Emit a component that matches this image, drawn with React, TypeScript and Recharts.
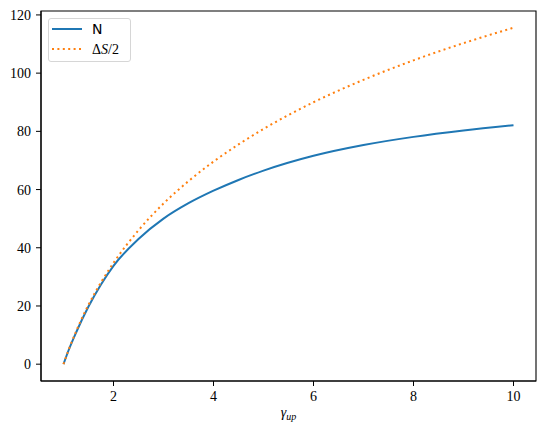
import React from 'react';
import { LineChart, Line, XAxis, YAxis, ReferenceArea } from 'recharts';

const gammaValues = [1, 1.1, 1.25, 1.5, 1.75, 2, 2.5, 3, 3.5, 4, 4.5, 5, 6, 7, 8, 9, 10];
const nValues = [0, 4.7, 10.8, 19.8, 27.4, 33.8, 43, 50, 55.3, 59.6, 63.3, 66.5, 71.6, 75.3, 78.1, 80.3, 82.1];
const halfDeltaSValues = [0, 4.8, 11.2, 20.4, 28.1, 34.8, 46, 55.2, 62.9, 69.6, 75.5, 80.8, 90, 97.7, 104.4, 110.3, 115.6];
const xTicks = [2, 4, 6, 8, 10];
const yTicks = [0, 20, 40, 60, 80, 100, 120];
const xDomain: [number, number] = [0.55, 10.45];
const yDomain: [number, number] = [-5.78, 121.35];

const data = gammaValues.map((g, i) => ({ g, n: nValues[i], ds: halfDeltaSValues[i] }));

const BLUE = '#1f77b4';
const ORANGE = '#ff7f0e';
const tickFont = { fontFamily: '"Liberation Serif", serif', fontSize: 14, fill: '#000' };

const XLabel = (props: any) => {
  const vb = props.viewBox || {};
  const cx = vb.x + vb.width / 2;
  return (
    <text x={cx} y={417} textAnchor="middle" fontFamily='"Liberation Serif", serif' fontStyle="italic" fontSize={14} fill="#000">
      γ<tspan fontSize={10} dy={3}>up</tspan>
    </text>
  );
};

export default function App() {
  return (
    <div style={{ position: 'relative', width: 546, height: 431, marginLeft: -8, marginTop: -8, background: '#fff' }}>
      <LineChart width={546} height={431} data={data} margin={{ top: 11, right: 10, left: 0, bottom: 0 }}>
        <XAxis
          dataKey="g"
          type="number"
          domain={xDomain}
          ticks={xTicks}
          allowDataOverflow
          height={50}
          tickSize={5}
          tickMargin={5}
          stroke="#000"
          tick={tickFont}
          tickLine={{ stroke: '#000' }}
          axisLine={{ stroke: '#000', strokeWidth: 1.1 }}
          label={<XLabel />}
        />
        <YAxis
          type="number"
          domain={yDomain}
          ticks={yTicks}
          allowDataOverflow
          width={41}
          tickSize={5}
          tickMargin={5}
          stroke="#000"
          tick={tickFont}
          tickLine={{ stroke: '#000' }}
          axisLine={{ stroke: '#000', strokeWidth: 1.1 }}
        />
        <ReferenceArea x1={xDomain[0]} x2={xDomain[1]} y1={yDomain[0]} y2={yDomain[1]} fill="none" stroke="#000" strokeWidth={1.1} ifOverflow="visible" />
        <Line type="monotone" dataKey="n" stroke={BLUE} strokeWidth={2} dot={false} isAnimationActive={false} />
        <Line type="monotone" dataKey="ds" stroke={ORANGE} strokeWidth={2} strokeDasharray="2 3.4" dot={false} isAnimationActive={false} />
      </LineChart>
      <div
        style={{
          position: 'absolute',
          left: 48,
          top: 18,
          width: 83,
          height: 44,
          border: '1px solid #d6d6d6',
          borderRadius: 3,
          background: 'rgba(255,255,255,0.8)',
          boxSizing: 'border-box',
        }}
      >
        <svg width={83} height={44} style={{ position: 'absolute', left: -1, top: -1 }}>
          <line x1={4} x2={34} y1={11} y2={11} stroke={BLUE} strokeWidth={2} />
          <line x1={4} x2={34} y1={31} y2={31} stroke={ORANGE} strokeWidth={2} strokeDasharray="2 3.4" />
          <text x={44} y={16} fontFamily='"DejaVu Sans", sans-serif' fontSize={14} fill="#000">N</text>
          <text x={44} y={36} fontFamily='"Liberation Serif", serif' fontSize={14} fill="#000">
            Δ<tspan fontStyle="italic">S</tspan>/2
          </text>
        </svg>
      </div>
    </div>
  );
}
